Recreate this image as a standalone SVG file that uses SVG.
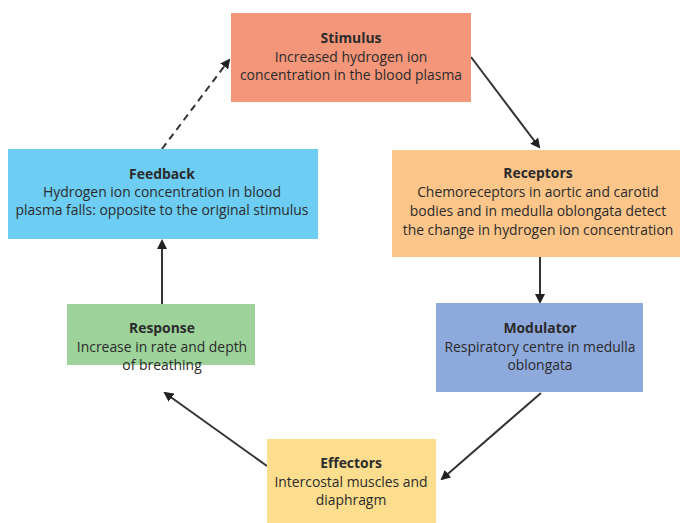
<svg xmlns="http://www.w3.org/2000/svg" width="680" height="523" viewBox="0 0 680 523">
<style>
text{font-family:"Open Sans","Liberation Sans",sans-serif;font-size:13.9px;fill:#2b2b2b;text-anchor:middle}
.t{font-weight:bold}
.c{stroke:#333;stroke-width:2;fill:none}
</style>
<defs>
<marker id="a" markerWidth="10" markerHeight="10" refX="8" refY="5" orient="auto" markerUnits="userSpaceOnUse">
<path d="M0,0 L10,5 L0,10 Z" fill="#222"/>
</marker>
</defs>
<rect width="680" height="523" fill="#fff"/>
<g id="connectors">
<line class="c" x1="471" y1="57" x2="539" y2="147" marker-end="url(#a)"/>
<line class="c" x1="540" y1="257" x2="540" y2="302" marker-end="url(#a)"/>
<line class="c" x1="541" y1="393" x2="442" y2="479" marker-end="url(#a)"/>
<line class="c" x1="267" y1="466" x2="165" y2="393" marker-end="url(#a)"/>
<line class="c" x1="162" y1="304" x2="162" y2="241" marker-end="url(#a)"/>
<line class="c" x1="162" y1="149" x2="229" y2="60" stroke-dasharray="7,5" marker-end="url(#a)"/>
</g>
<g id="stimulus">
<rect x="231" y="13" width="240" height="89" fill="#F4967A"/>
<text x="351" y="43" class="t">Stimulus</text>
<text x="351" y="62">Increased hydrogen ion</text>
<text x="351" y="80">concentration in the blood plasma</text>
</g>
<g id="receptors">
<rect x="392" y="150" width="288" height="107" fill="#FCC68A"/>
<text x="538" y="178" class="t">Receptors</text>
<text x="538" y="197">Chemoreceptors in aortic and carotid</text>
<text x="538" y="216">bodies and in medulla oblongata detect</text>
<text x="538" y="235">the change in hydrogen ion concentration</text>
</g>
<g id="feedback">
<rect x="8" y="149" width="310" height="90" fill="#6DCDF3"/>
<text x="162" y="179" class="t">Feedback</text>
<text x="162" y="197">Hydrogen ion concentration in blood</text>
<text x="162" y="215">plasma falls: opposite to the original stimulus</text>
</g>
<g id="response">
<rect x="67" y="304" width="188" height="61" fill="#9DD39B"/>
<text x="162" y="333" class="t">Response</text>
<text x="162" y="352">Increase in rate and depth</text>
<text x="162" y="370">of breathing</text>
</g>
<g id="modulator">
<rect x="436" y="303" width="207" height="89" fill="#8EA9DB"/>
<text x="540" y="333" class="t">Modulator</text>
<text x="540" y="352">Respiratory centre in medulla</text>
<text x="540" y="370">oblongata</text>
</g>
<g id="effectors">
<rect x="267" y="439" width="169" height="84" fill="#FDDE8E"/>
<text x="351" y="468" class="t">Effectors</text>
<text x="351" y="487">Intercostal muscles and</text>
<text x="351" y="505">diaphragm</text>
</g>
</svg>
